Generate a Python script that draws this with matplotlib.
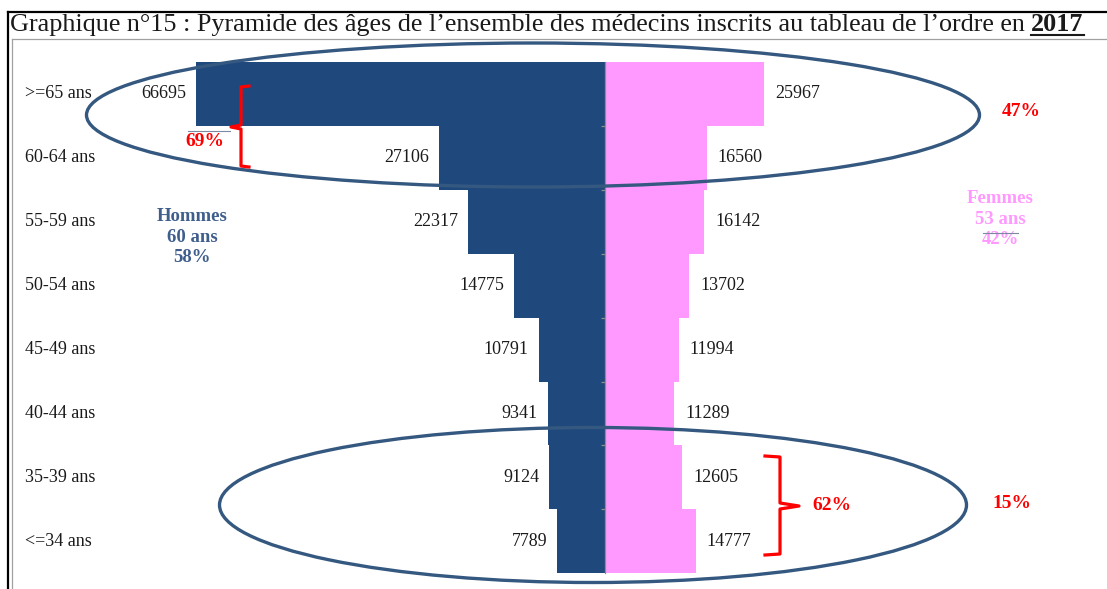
import matplotlib
matplotlib.use("Agg")
import matplotlib.pyplot as plt
from matplotlib.patches import Ellipse
from matplotlib.lines import Line2D
from matplotlib.transforms import blended_transform_factory

# ---------------- data ----------------
categories = [">=65 ans", "60-64 ans", "55-59 ans", "50-54 ans",
              "45-49 ans", "40-44 ans", "35-39 ans", "<=34 ans"]
hommes = [66695, 27106, 22317, 14775, 10791, 9341, 9124, 7789]
femmes = [25967, 16560, 16142, 13702, 11994, 11289, 12605, 14777]

title_main = "Graphique n°15 : Pyramide des âges de l’ensemble des médecins inscrits au tableau de l’ordre en "
title_year = "2017"
hommes_note = "Hommes\n60 ans\n58%"
femmes_note = "Femmes\n53 ans\n42%"
pct_top_left = "69%"
pct_top_right = "47%"
pct_bot_mid = "62%"
pct_bot_right = "15%"

# ---------------- style ----------------
W, H = 1107, 589
BLUE = "#1F497D"
PINK = "#FF99FF"
ELL = "#34587F"
RED = "#FF0000"
HCOL = "#3F5E8C"
SERIF = ["Liberation Serif", "DejaVu Serif"]
plt.rcParams["font.family"] = SERIF

fig = plt.figure(figsize=(W / 100, H / 100), dpi=100)
ax = fig.add_axes([0, 0, 1, 1])
ax.set_axis_off()

px_per_unit = 409 / 66695.0  # pixel scale
cx = 605
ax.set_xlim(-cx / px_per_unit, (W - cx) / px_per_unit)
row0, rowh = 94, 63.9
ax.set_ylim((H - row0) / rowh, -row0 / rowh)


def P(x, y):
    """pixel -> figure fraction"""
    return x / W, 1 - y / H


ypos = list(range(len(categories)))
ax.barh(ypos, [-v for v in hommes], height=1.0, color=BLUE, linewidth=0, zorder=2)
ax.barh(ypos, femmes, height=1.0, color=PINK, linewidth=0, zorder=2)

# central axis with ticks
ax.plot([0, 0], [-0.5, len(categories) - 0.5], color="#8C8C8C", lw=0.9, zorder=3)
tick_len = 4 / px_per_unit
ax.hlines([i + 0.5 for i in ypos[:-1]], -tick_len, 0, color="#8C8C8C", lw=0.9, zorder=3)

# value labels
off = 10 / px_per_unit
for i, (h, f) in enumerate(zip(hommes, femmes)):
    ax.text(-h - off, i, str(h), ha="right", va="center", fontsize=13,
            color="#1a1a1a", zorder=5)
    ax.text(f + off * 1.1, i, str(f), ha="left", va="center", fontsize=13,
            color="#1a1a1a", zorder=5)

# category labels
tr = blended_transform_factory(fig.transFigure, ax.transData)
for i, c in enumerate(categories):
    ax.text(25 / W, i, c, ha="left", va="center", fontsize=13,
            color="#1a1a1a", transform=tr)

# ellipses (pixel-based geometry)
def ellipse(xc, yc, w, h):
    e = Ellipse(P(xc, yc), w / W, h / H, transform=fig.transFigure,
                fill=False, edgecolor=ELL, lw=2.4, zorder=6)
    fig.add_artist(e)

ellipse(533, 115, 893, 144)
ellipse(593, 505, 747, 155)

# brackets
def path(pts, color=RED, lw=2.3):
    xs = [p[0] / W for p in pts]
    ys = [1 - p[1] / H for p in pts]
    fig.add_artist(Line2D(xs, ys, transform=fig.transFigure, color=color,
                          lw=lw, solid_joinstyle="round", zorder=7))

path([(249, 86), (241, 87), (241, 125), (231, 127), (241, 129), (241, 166), (249, 167)])
path([(765, 456), (780, 457), (780, 503), (799, 506), (780, 509), (780, 554), (765, 555)])

# red percentages
def ftext(x, y, s, color=RED, size=14, weight="bold", **kw):
    fig.text(x / W, 1 - y / H, s, color=color, fontsize=size, fontweight=weight,
             ha="center", va="center", zorder=8, **kw)

ftext(205, 141, pct_top_left)
path([(188, 131), (230, 131)], color="#7A8AA0", lw=0.8)
ftext(1021, 111, pct_top_right)
ftext(832, 506, pct_bot_mid)
ftext(1012, 503, pct_bot_right)

# group notes
fig.text(192 / W, 1 - 237 / H, hommes_note, color=HCOL, fontsize=13.5,
         fontweight="bold", ha="center", va="center", linespacing=1.3)
fig.text(1000 / W, 1 - 219 / H, femmes_note, color=PINK, fontsize=13.5,
         fontweight="bold", ha="center", va="center", linespacing=1.3)
path([(983, 233), (1018, 233)], color="#7A8AA0", lw=0.8)

# frame lines
fig.add_artist(Line2D([8 / W, 1], [1 - 12 / H] * 2, transform=fig.transFigure,
                      color="black", lw=1.6))
fig.add_artist(Line2D([8 / W] * 2, [0, 1 - 12 / H], transform=fig.transFigure,
                      color="black", lw=1.6))
fig.add_artist(Line2D([11.5 / W] * 2, [0, 1 - 39 / H], transform=fig.transFigure,
                      color="#A0A0A0", lw=0.9))
fig.add_artist(Line2D([11.5 / W, 1], [1 - 39 / H] * 2, transform=fig.transFigure,
                      color="#A0A0A0", lw=0.9))

# title, sized to span the same width as in the reference
fig.canvas.draw()
renderer = fig.canvas.get_renderer()
x0, target_right, base_y = 10, 1085, 31


def draw_title(fs):
    t1 = fig.text(x0 / W, 1 - base_y / H, title_main, fontsize=fs, color="#1a1a1a",
                  ha="left", va="baseline")
    bb = t1.get_window_extent(renderer)
    t2 = fig.text(bb.x1 / W, 1 - base_y / H, title_year, fontsize=fs,
                  fontweight="bold", color="#1a1a1a", ha="left", va="baseline")
    return t1, t2, t2.get_window_extent(renderer)


t1, t2, bb2 = draw_title(18)
fs = 18 * (target_right - x0) / (bb2.x1 - x0)
t1.remove()
t2.remove()
t1, t2, bb2 = draw_title(fs)
fig.add_artist(Line2D([bb2.x0 / W, bb2.x1 / W], [1 - (base_y + 4) / H] * 2,
                      transform=fig.transFigure, color="#1a1a1a", lw=1.5))

fig.savefig("out.png", dpi=100)
